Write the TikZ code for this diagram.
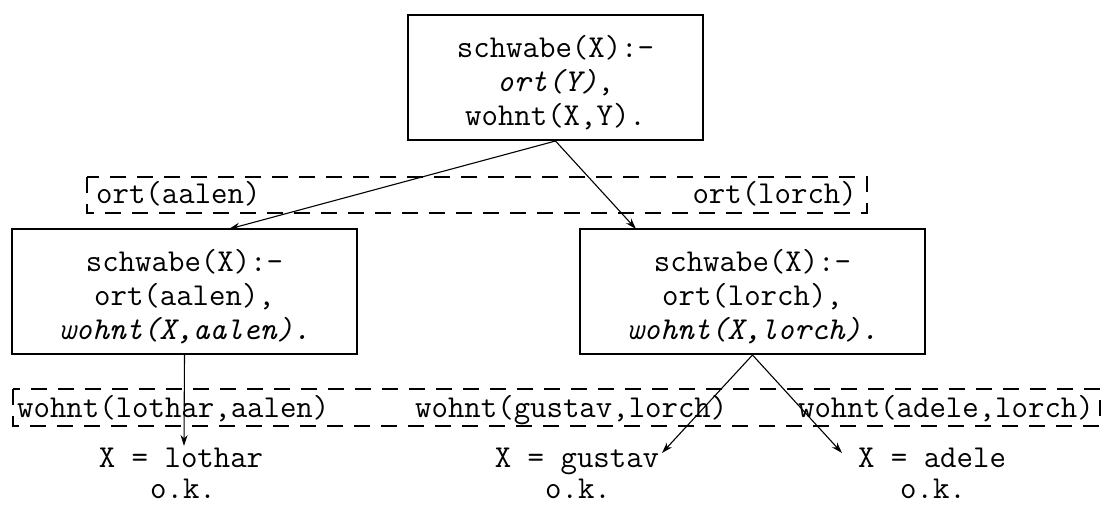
\documentclass[tikz,border=0pt]{standalone}
\usetikzlibrary{arrows.meta}
\begin{document}
\begin{tikzpicture}[x=1pt,y=-1pt,
  every node/.style={font=\ttfamily\fontsize{31.9}{34}\selectfont, inner sep=0pt},
  clause/.style={draw, line width=2pt, minimum height=125pt},
  ctext/.style={align=center, yshift=-5pt},
  band/.style={draw, line width=2pt, dash pattern=on 16pt off 11pt},
  lbl/.style={anchor=base},
  conn/.style={line width=1.1pt, -{Stealth[length=11pt,width=7pt]}}
]
\useasboundingbox (0,0) rectangle (1104,505);
% dashed bands
\draw[band] (87,177) rectangle (867,213);
\draw[band] (13,389) rectangle (1100,426);
% clause boxes
\node[clause, minimum width=295pt] (top) at (555.5,77.5) {};
\node[clause, minimum width=345pt] (left) at (184.5,291.5) {};
\node[clause, minimum width=345pt] (right) at (752.5,291.5) {};
\node[ctext] (topt) at (top.center) {schwabe(X):-\\\textit{ort(Y)},\\wohnt(X,Y).};
\node[ctext] (leftt) at (left.center) {schwabe(X):-\\ort(aalen),\\\textit{wohnt(X,aalen).}};
\node[ctext] (rightt) at (right.center) {schwabe(X):-\\ort(lorch),\\\textit{wohnt(X,lorch).}};
% band labels
\node[lbl, anchor=base west] (oa) at (96,204) {ort(aalen)};
\node[lbl, anchor=base east] (ol) at (857,204) {ort(lorch)};
\node[lbl, anchor=base west] (wl) at (17,417) {wohnt(lothar,aalen)};
\node[lbl, anchor=base west] (wg) at (415,417) {wohnt(gustav,lorch)};
\node[lbl, anchor=base east] (wa) at (1094,417) {wohnt(adele,lorch)};
% results
\node[lbl] (xl) at (181,467) {X = lothar};
\node[lbl] (okl) at (183,498) {o.k.};
\node[lbl] (xg) at (577,467) {X = gustav};
\node[lbl] (okg) at (578,498) {o.k.};
\node[lbl] (xa) at (932,467) {X = adele};
\node[lbl] (oka) at (933,498) {o.k.};
% arrow endpoints
\coordinate (ta) at (229,229);
\coordinate (tl) at (636,229);
\coordinate (tlo) at (184,446);
\coordinate (tg) at (662,453);
\coordinate (tad) at (842,453);
% connectors
\draw[conn] (top.south) -- (ta);
\draw[conn] (top.south) -- (tl);
\draw[conn] (left.south) -- (tlo);
\draw[conn] (right.south) -- (tg);
\draw[conn] (right.south) -- (tad);
\end{tikzpicture}
\end{document}
